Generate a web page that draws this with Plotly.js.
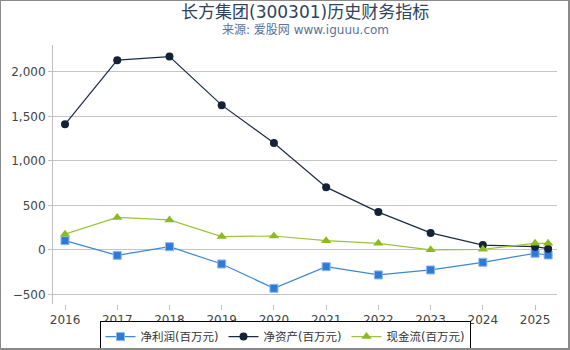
<!DOCTYPE html>
<html><head><meta charset="utf-8">
<script src="https://cdn.plot.ly/plotly-3.0.1.min.js"></script>
<style>
html,body{margin:0;padding:0;background:#fff;}
#wrap{position:relative;width:570px;height:350px;}
#chart{position:absolute;left:0;top:0;width:570px;height:350px;}
#frame{position:absolute;left:0;top:0;width:570px;height:350px;box-sizing:border-box;border-style:solid;border-color:#8a8a8a;border-width:1px 2px 2px 1px;pointer-events:none;}
</style></head>
<body><div id="wrap"><div id="chart"></div><div id="frame"></div></div>
<script>
const years = [2016, 2017, 2018, 2019, 2020, 2021, 2022, 2023, 2024, 2025, 2025.25];
const netProfit = [105, -60, 37, -157, -430, -187, -280, -224, -138, -37, -56];
const netAssets = [1410, 2130, 2170, 1625, 1200, 705, 425, 192, 55, 37, 15];
const cashFlow = [178, 365, 337, 150, 157, 105, 75, 2, 8, 75, 75];
const seriesNames = ['净利润(百万元)', '净资产(百万元)', '现金流(百万元)'];
const tickYears = [2016, 2017, 2018, 2019, 2020, 2021, 2022, 2023, 2024, 2025];
const yTicks = [-500, 0, 500, 1000, 1500, 2000];
const titleText = '长方集团(300301)历史财务指标';
const subtitleText = '来源: 爱股网 www.iguuu.com';

const font = 'DejaVu Sans, "Noto Sans CJK SC", sans-serif';
const traces = [
  {x: years, y: netProfit, name: seriesNames[0], mode: 'lines+markers',
   line: {color: '#3b87d8', width: 1.2}, marker: {symbol: 'square', size: 8, color: '#2f7ad6', line:{color:'#8ab8ee', width:1}}},
  {x: years, y: netAssets, name: seriesNames[1], mode: 'lines+markers',
   line: {color: '#1a2b44', width: 1.2}, marker: {symbol: 'circle', size: 8, color: '#142238'}},
  {x: years, y: cashFlow, name: seriesNames[2], mode: 'lines+markers',
   line: {color: '#9cc43a', width: 1.2}, marker: {symbol: 'triangle-up', size: 9, color: '#8dbb1f'}}
];
const layout = {
  width: 570, height: 350,
  margin: {l: 53, r: 13, t: 45, b: 46, autoexpand: false},
  paper_bgcolor: '#fff', plot_bgcolor: '#fff',
  font: {family: font, size: 12, color: '#444'},
  annotations: [
    {text: titleText, xref: 'paper', yref: 'paper', x: 0.5, y: 1, yshift: 33, xanchor: 'center', yanchor: 'middle',
     showarrow: false, font: {size: 17, color: '#2e4360', family: font}},
    {text: subtitleText, xref: 'paper', yref: 'paper', x: 0.5, y: 1, yshift: 15, xanchor: 'center', yanchor: 'middle',
     showarrow: false, font: {size: 12, color: '#5a7396', family: font}}
  ],
  xaxis: {range: [2015.77, 2025.42], tickvals: tickYears, ticktext: tickYears.map(String),
          showgrid: false, zeroline: false, showline: false, ticks: 'outside', ticklen: 5, tickcolor: '#c0c0c0',
          tickfont: {size: 12, color: '#444'}},
  yaxis: {range: [-606, 2300], tickvals: yTicks, tickformat: ',', showgrid: true, gridcolor: '#c4c4c4',
          zeroline: false, showline: true, linecolor: '#c0c0c0', ticks: 'outside', ticklen: 4, tickcolor: '#c0c0c0',
          tickfont: {size: 12, color: '#444'}},
  showlegend: true,
  legend: {orientation: 'h', xref: 'container', yref: 'paper', x: 0.5, xanchor: 'center', y: -0.066, yanchor: 'top',
           bordercolor: '#000', borderwidth: 1, font: {size: 11.5, color: '#333'}, itemwidth: 30, tracegroupgap: 0}
};
Plotly.newPlot('chart', traces, layout, {displayModeBar: false, staticPlot: true});
</script></body></html>
